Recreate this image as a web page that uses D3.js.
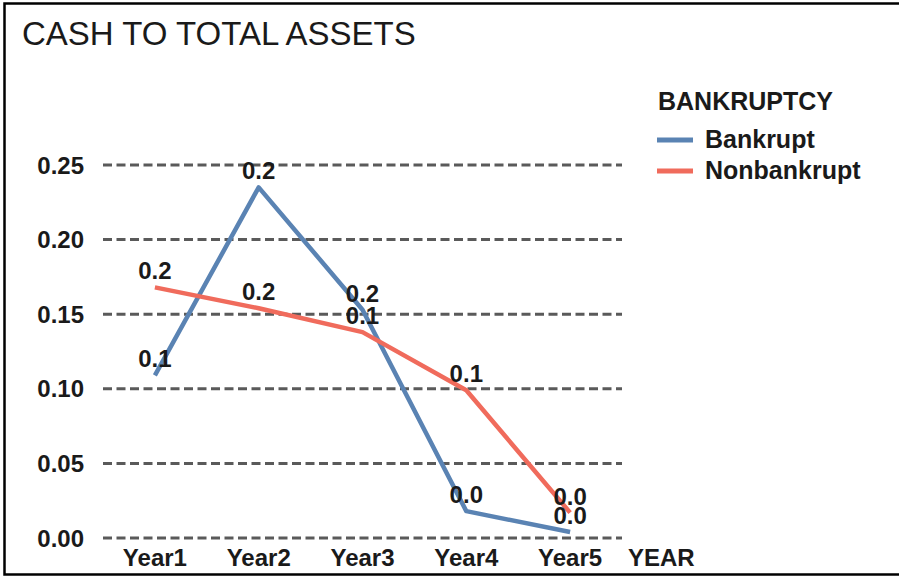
<!DOCTYPE html>
<html>
<head>
<meta charset="utf-8">
<script src="https://cdn.jsdelivr.net/npm/d3@7"></script>
<style>
  html, body { margin: 0; padding: 0; background: #fff; }
  svg { display: block; }
  text { font-family: "Liberation Sans", Arial, sans-serif; fill: #1a1a1a; }
</style>
</head>
<body>
<svg id="chart" width="899" height="577"></svg>
<script>
// Cash to total assets, by year and bankruptcy status
const years = ["Year1", "Year2", "Year3", "Year4", "Year5"];
const bankrupt = [0.109, 0.235, 0.153, 0.018, 0.004];
const nonbankrupt = [0.168, 0.154, 0.138, 0.099, 0.017];
const yTicks = [0, 0.05, 0.10, 0.15, 0.20, 0.25];
const seriesNames = ["Bankrupt", "Nonbankrupt"];
const seriesColors = ["#5a83b3", "#f06b5c"];

const svg = d3.select("#chart");

// frame
svg.append("path")
  .attr("d", "M905,3.5 H4.5 V574.5 H905")
  .attr("fill", "none")
  .attr("stroke", "#000")
  .attr("stroke-width", 2.5);

// title
svg.append("text")
  .attr("x", 22).attr("y", 45)
  .attr("font-size", 33)
  .text("CASH TO TOTAL ASSETS");

const x = d3.scalePoint().domain(years).range([103, 622]).padding(0.5);
const y = d3.scaleLinear().domain([0, 0.25]).range([538, 165]);

// dashed gridlines
svg.append("g").selectAll("line")
  .data(yTicks)
  .join("line")
  .attr("x1", 103).attr("x2", 622)
  .attr("y1", d => y(d)).attr("y2", d => y(d))
  .attr("stroke", "#5a5a5a")
  .attr("stroke-width", 3)
  .attr("stroke-dasharray", "9,4.5");

// y tick labels
svg.append("g").selectAll("text")
  .data(yTicks)
  .join("text")
  .attr("x", 84)
  .attr("y", d => y(d) + 8.5)
  .attr("text-anchor", "end")
  .attr("font-size", 24)
  .attr("font-weight", "bold")
  .text(d => d3.format(".2f")(d));

// x tick labels
svg.append("g").selectAll("text")
  .data(years)
  .join("text")
  .attr("x", d => x(d))
  .attr("y", 566)
  .attr("text-anchor", "middle")
  .attr("font-size", 24)
  .attr("font-weight", "bold")
  .text(d => d);

svg.append("text")
  .attr("x", 628).attr("y", 566)
  .attr("font-size", 24)
  .attr("font-weight", "bold")
  .text("YEAR");

// series lines
const series = [bankrupt, nonbankrupt];
const line = d3.line().x((d, i) => x(years[i])).y(d => y(d));

series.forEach((vals, s) => {
  svg.append("path")
    .datum(vals)
    .attr("d", line)
    .attr("fill", "none")
    .attr("stroke", seriesColors[s])
    .attr("stroke-width", 4.5)
    .attr("stroke-linejoin", "round");
});

// value labels
series.forEach((vals, s) => {
  svg.append("g").selectAll("text")
    .data(vals)
    .join("text")
    .attr("x", (d, i) => x(years[i]))
    .attr("y", d => y(d) - 8)
    .attr("text-anchor", "middle")
    .attr("font-size", 24)
    .attr("font-weight", "bold")
    .text(d => d3.format(".1f")(d));
});

// legend
svg.append("text")
  .attr("x", 658).attr("y", 110)
  .attr("font-size", 25)
  .attr("font-weight", "bold")
  .text("BANKRUPTCY");

const legend = svg.append("g").selectAll("g")
  .data(seriesNames)
  .join("g")
  .attr("transform", (d, i) => `translate(657, ${140 + i * 31})`);

legend.append("line")
  .attr("x1", 0).attr("x2", 36)
  .attr("stroke", (d, i) => seriesColors[i])
  .attr("stroke-width", 5);

legend.append("text")
  .attr("x", 48).attr("y", 8)
  .attr("font-size", 25)
  .attr("font-weight", "bold")
  .text(d => d);
</script>
</body>
</html>
